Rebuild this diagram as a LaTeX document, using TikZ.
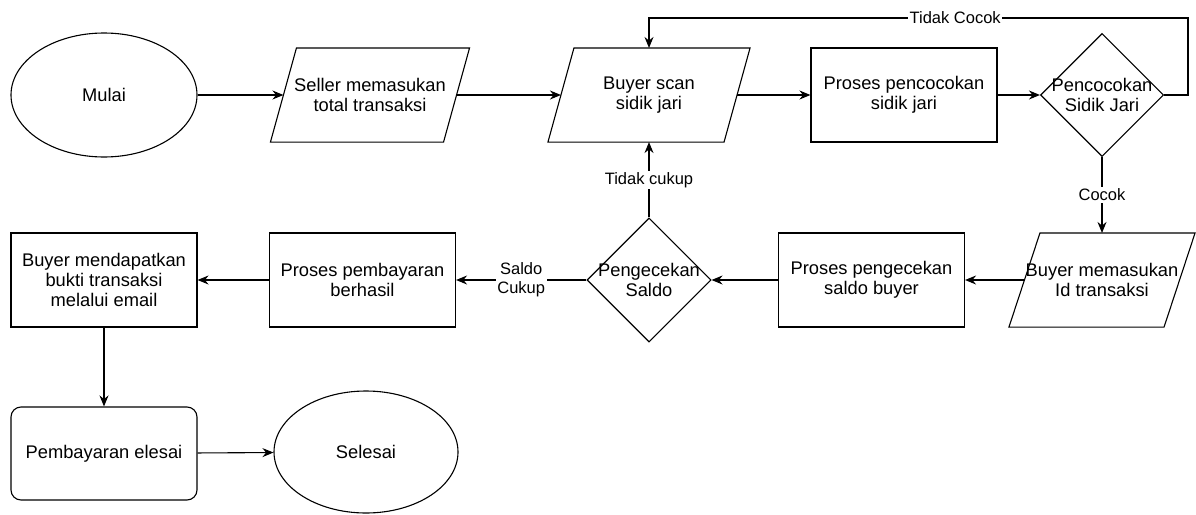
\documentclass[tikz,border=0pt]{standalone}
\usepackage{fontspec}
\setmainfont{Liberation Sans}
\usetikzlibrary{shapes.geometric,arrows.meta}

\begin{document}
\begin{tikzpicture}[x=1pt,y=-1pt,line width=1.1pt,
    font=\fontsize{18.3}{20}\selectfont,
    proc/.style={draw,minimum width=186pt,minimum height=94pt,inner sep=0pt,align=center},
    io/.style={minimum height=93pt,inner sep=0pt,align=center,
      append after command={([xshift=#1]\tikzlastnode.north west)
        -- ([xshift=#1]\tikzlastnode.north east)
        -- ([xshift=-#1]\tikzlastnode.south east)
        -- ([xshift=-#1]\tikzlastnode.south west) -- cycle}},
    io/.default=13pt,
    term/.style={draw,ellipse,minimum width=186pt,minimum height=124pt,inner sep=0pt},
    dec/.style={draw,diamond,minimum width=123pt,minimum height=123pt,inner sep=0pt},
    lbl/.style={fill=white,inner sep=1.5pt,align=center,font=\fontsize{16.5}{19}\selectfont}]
      \useasboundingbox (0,0) rectangle (1196,514);
      \draw
        (104,95) node[term] (mulai){Mulai}
        (370,95) node[io,minimum width=172pt] (seller){Seller memasukan\\total transaksi}
        (649,95) node[io,minimum width=175pt] (bscan){Buyer scan\\sidik jari}
        (904,95) node[proc] (pcc){Proses pencocokan\\sidik jari}
        (1102,95) node[dec,label={[align=center]center:Pencocokan\\Sidik Jari}] (pcd){}
        (1102,280) node[io=15.5pt,minimum width=154pt] (bmem){Buyer memasukan\\Id transaksi}
        (871.5,280) node[proc] (ppg){Proses pengecekan\\saldo buyer}
        (649,280) node[dec,minimum width=124pt,minimum height=124pt,
          label={[align=center]center:Pengecekan\\Saldo}] (pgs){}
        (362.5,280) node[proc] (pbyr){Proses pembayaran\\berhasil}
        (104,280) node[proc] (bmdp){Buyer mendapatkan\\bukti transaksi\\melalui email}
        (104,453.5) node[proc,minimum height=93pt,rounded corners=10pt] (pel){Pembayaran elesai}
        (366,452) node[term,minimum width=184pt,minimum height=122pt] (sel){Selesai};
      \coordinate (tcR) at (1188,18);
      \begin{scope}[-{Stealth[length=11pt,width=9pt]}]
        \draw (mulai) -- (seller);
        \draw (seller) -- (bscan);
        \draw (bscan) -- (pcc);
        \draw (pcc) -- (pcd);
        \draw (pcd.east) -| (tcR) -| node[lbl,pos=0.216] {Tidak Cocok} (bscan.north);
        \draw (pcd) -- node[lbl] {Cocok} (bmem);
        \draw (bmem) -- (ppg);
        \draw (ppg) -- (pgs);
        \draw (pgs) -- node[lbl] {Tidak cukup} (bscan);
        \draw (pgs) -- node[lbl] {Saldo\\Cukup} (pbyr);
        \draw (pbyr) -- (bmdp);
        \draw (bmdp) -- (pel);
        \draw (pel) -- (sel);
      \end{scope}
    \end{tikzpicture}
\end{document}
